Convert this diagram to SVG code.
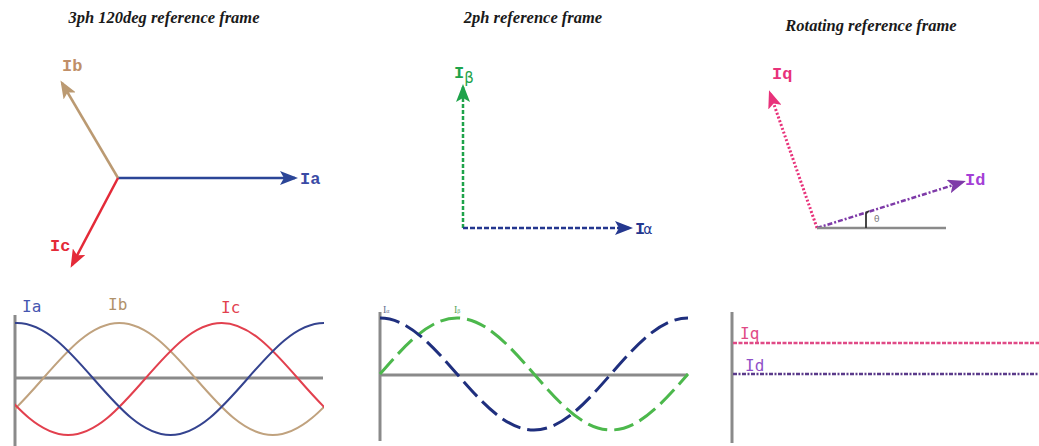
<svg xmlns="http://www.w3.org/2000/svg" width="1039" height="446" viewBox="0 0 1039 446">
<style>
.title{font-family:"Liberation Serif",serif;font-style:italic;font-weight:bold;font-size:16.5px;fill:#1a1a1a;text-anchor:middle}
.lbl{font-family:"Liberation Mono","DejaVu Sans Mono",monospace;font-weight:bold;font-size:17px}
.wl{font-family:"DejaVu Sans Mono","Liberation Mono",monospace;font-size:16px}
.axis{stroke:#8a8a8a;stroke-width:3;fill:none}
.wave{fill:none;stroke-width:2}
</style>
<defs>
<marker id="hBlue" viewBox="0 0 18 14" refX="15" refY="7" markerWidth="18" markerHeight="14" markerUnits="userSpaceOnUse" orient="auto"><path d="M0,0 L18,7 L0,14 L4,7 z" fill="#2b4597"/></marker>
<marker id="hTan" viewBox="0 0 18 14" refX="15" refY="7" markerWidth="18" markerHeight="14" markerUnits="userSpaceOnUse" orient="auto"><path d="M0,0 L18,7 L0,14 L4,7 z" fill="#bb9a72"/></marker>
<marker id="hRed" viewBox="0 0 18 14" refX="15" refY="7" markerWidth="18" markerHeight="14" markerUnits="userSpaceOnUse" orient="auto"><path d="M0,0 L18,7 L0,14 L4,7 z" fill="#e42a38"/></marker>
<marker id="hGreen" viewBox="0 0 18 14" refX="15" refY="7" markerWidth="18" markerHeight="14" markerUnits="userSpaceOnUse" orient="auto"><path d="M0,0 L18,7 L0,14 L4,7 z" fill="#1ea34a"/></marker>
<marker id="hNavy" viewBox="0 0 18 14" refX="15" refY="7" markerWidth="18" markerHeight="14" markerUnits="userSpaceOnUse" orient="auto"><path d="M0,0 L18,7 L0,14 L4,7 z" fill="#24378f"/></marker>
<marker id="hPink" viewBox="0 0 18 14" refX="15" refY="7" markerWidth="18" markerHeight="14" markerUnits="userSpaceOnUse" orient="auto"><path d="M0,0 L18,7 L0,14 L4,7 z" fill="#e8327a"/></marker>
<marker id="hPurple" viewBox="0 0 18 14" refX="15" refY="7" markerWidth="18" markerHeight="14" markerUnits="userSpaceOnUse" orient="auto"><path d="M0,0 L18,7 L0,14 L4,7 z" fill="#7e3aa8"/></marker>
<clipPath id="clip1"><rect x="15" y="280" width="309" height="166"/></clipPath>
</defs>
<rect width="1039" height="446" fill="#ffffff"/>

<!-- Titles -->
<g id="titles">
<text class="title" x="164" y="23">3ph 120deg reference frame</text>
<text class="title" x="533" y="23">2ph reference frame</text>
<text class="title" x="871" y="31">Rotating reference frame</text>
</g>

<!-- Connectors -->
<g id="connectors">
<line x1="118" y1="178" x2="295" y2="178" stroke="#2b4597" stroke-width="2.5" marker-end="url(#hBlue)"/>
<line x1="118" y1="178" x2="62" y2="83" stroke="#bb9a72" stroke-width="2.5" marker-end="url(#hTan)"/>
<line x1="118" y1="178" x2="72" y2="265" stroke="#e42a38" stroke-width="2.5" marker-end="url(#hRed)"/>
<line x1="463" y1="228" x2="463" y2="87" stroke="#1ea34a" stroke-width="2.5" stroke-dasharray="4 2" marker-end="url(#hGreen)"/>
<line x1="463" y1="228" x2="630" y2="228" stroke="#24378f" stroke-width="2.5" stroke-dasharray="5 2" marker-end="url(#hNavy)"/>
<line x1="817" y1="228" x2="770" y2="93" stroke="#e8327a" stroke-width="3" stroke-dasharray="2 2" marker-end="url(#hPink)"/>
<line x1="817" y1="228" x2="963" y2="182" stroke="#7e3aa8" stroke-width="2.5" stroke-dasharray="5 2 2 2" marker-end="url(#hPurple)"/>
</g>

<g id="node-Ia"><text class="lbl" x="300" y="184" fill="#3a4aa5">Ia</text></g>
<g id="node-Ib"><text class="lbl" x="62" y="71" fill="#c08f68">Ib</text></g>
<g id="node-Ic"><text class="lbl" x="50" y="251" fill="#e42a38">Ic</text></g>

<g id="node-Ibeta"><text class="lbl" x="454" y="78" fill="#1ea34a">I<tspan font-family="DejaVu Sans,sans-serif" font-weight="normal" font-size="15" dy="5">β</tspan></text></g>
<g id="node-Ialpha"><text class="lbl" x="635" y="234" fill="#24378f">I<tspan font-family="DejaVu Sans,sans-serif" font-weight="normal" font-size="14" dx="-2">α</tspan></text></g>

<g id="node-Iq"><text class="lbl" x="772" y="79" fill="#e8327a">Iq</text></g>
<g id="node-Id"><text class="lbl" x="965" y="185" fill="#a43fd6">Id</text></g>
<g id="angle">
<line x1="817" y1="228" x2="946" y2="228" stroke="#8a8a8a" stroke-width="2.5"/>
<path d="M866,228 V213 l3,-2" fill="none" stroke="#333" stroke-width="1.8"/>
<text x="874" y="222" font-family="DejaVu Sans,sans-serif" font-size="9" fill="#777">θ</text>
</g>

<!-- Panel 1 waves -->
<g id="waves-3ph">
<line class="axis" x1="15" y1="315" x2="15" y2="446"/>
<line class="axis" x1="15" y1="378" x2="323" y2="378"/>
<g clip-path="url(#clip1)">
<path class="wave" stroke="#c0a27e" d="M-187.67,323 c27.78,0 51.73,27.31 76.75,56 c25.02,28.69 48.97,56 76.75,56 c27.78,0 51.73,-27.31 76.75,-56 c25.02,-28.690 48.97,-56 76.75,-56 c27.78,0 51.73,27.31 76.75,56 c25.02,28.69 48.97,56 76.75,56 c27.78,0 51.73,-27.31 76.75,-56 c25.02,-28.69 48.97,-56 76.75,-56"/>
<path class="wave" stroke="#e2404e" d="M-85.33,323 c27.78,0 51.73,27.31 76.75,56 c25.02,28.69 48.97,56 76.75,56 c27.78,0 51.73,-27.31 76.75,-56 c25.02,-28.69 48.97,-56 76.75,-56 c27.78,0 51.73,27.31 76.75,56 c25.02,28.69 48.97,56 76.75,56 c27.78,0 51.73,-27.31 76.75,-56 c25.02,-28.69 48.97,-56 76.75,-56"/>
<path class="wave" stroke="#34438f" d="M15,323 h2 c27.78,0 51.73,27.31 76.75,56 c25.02,28.69 48.97,56 76.75,56 c27.78,0 51.73,-27.31 76.75,-56 c25.02,-28.69 48.97,-56 76.75,-56"/>
</g>
<text class="wl" x="22" y="312" fill="#4656b0">Ia</text>
<text class="wl" x="108" y="310" fill="#b0926a">Ib</text>
<text class="wl" x="221" y="313" fill="#e2404e">Ic</text>
</g>

<!-- Panel 2 waves -->
<g id="waves-2ph">
<line class="axis" x1="380" y1="312" x2="380" y2="441"/>
<line class="axis" x1="380" y1="375" x2="688" y2="375"/>
<path fill="none" stroke="#4cb84c" stroke-width="3" stroke-dasharray="20 7" d="M380,374 c25.1,-28.69 49.13,-56 77,-56 c27.87,0 51.9,27.31 77,56 c25.1,28.69 49.13,56 77,56 c27.87,0 51.9,-27.31 77,-56"/>
<path fill="none" stroke="#1f2f7e" stroke-width="3" stroke-dasharray="20 7" d="M380,318 c27.87,0 51.9,27.31 77,56 c25.1,28.69 49.13,56 77,56 c27.87,0 51.9,-27.31 77,-56 c25.1,-28.69 49.13,-56 77,-56"/>
<text x="383" y="313" font-family="Liberation Serif,serif" font-size="10" fill="#6a7290">I<tspan font-size="6">α</tspan></text>
<text x="454" y="313" font-family="Liberation Serif,serif" font-size="10" fill="#5aa85a">I<tspan font-size="6">β</tspan></text>
</g>

<!-- Panel 3 waves -->
<g id="waves-dq">
<line class="axis" x1="732" y1="312" x2="732" y2="443"/>
<line x1="733" y1="343" x2="1039" y2="343" stroke="#e04a86" stroke-width="2.5" stroke-dasharray="4 1.5"/>
<line x1="733" y1="374" x2="1039" y2="374" stroke="#5a3a8a" stroke-width="2.5" stroke-dasharray="4 1.5 2 1.5"/>
<text class="wl" x="740" y="339" fill="#e04a86">Iq</text>
<text class="wl" x="745" y="371" fill="#9050c8">Id</text>
</g>
</svg>
